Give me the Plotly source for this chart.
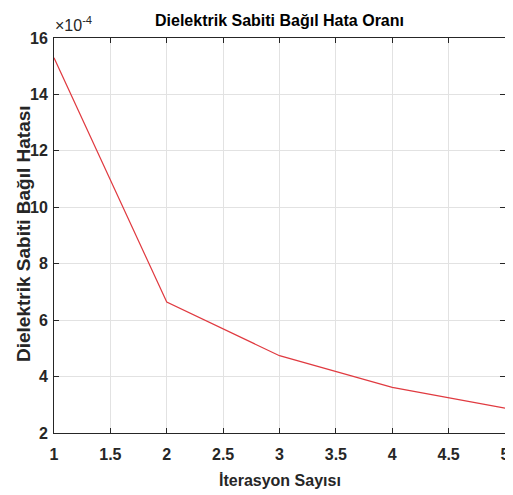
import plotly.graph_objects as go

iterations = [1, 2, 3, 4, 5]
rel_error_e4 = [15.3, 6.64, 4.74, 3.62, 2.88]  # in units of 1e-4

x_ticks = [1, 1.5, 2, 2.5, 3, 3.5, 4, 4.5, 5]
x_tick_text = ["1", "1.5", "2", "2.5", "3", "3.5", "4", "4.5", "5"]
y_ticks = [2, 4, 6, 8, 10, 12, 14, 16]

title_text = "Dielektrik Sabiti Bağıl Hata Oranı"
x_label = "İterasyon Sayısı"
y_label = "Dielektrik Sabiti Bağıl Hatası"
exp_label = "×10<sup>-4</sup>"

font_fam = "Liberation Sans, Arial, sans-serif"
axis_col = "#262626"

# page has an 8px body margin; size the figure so the plot area lands at
# page x 54..505, y 38..433
OFF = 8
W, H = 513 - OFF, 495 - OFF
PL, PR, PT, PB = 54, 505, 38, 433
L, R, T, B = PL - OFF, (W + OFF) - PR, PT - OFF, (H + OFF) - PB
pw, ph = PR - PL, PB - PT


def px_x(px):
    return (px - PL) / pw


def px_y(py):
    return (PB - py) / ph


fig = go.Figure()
fig.add_trace(go.Scatter(
    x=iterations, y=rel_error_e4, mode="lines",
    line=dict(color="#e03a40", width=1.2), showlegend=False,
))

fig.update_layout(
    width=W, height=H,
    margin=dict(l=L, r=R, t=T, b=B, autoexpand=False),
    paper_bgcolor="white", plot_bgcolor="white",
    font=dict(family=font_fam, color=axis_col),
)
common = dict(
    showgrid=True, gridcolor="#e2e2e2", gridwidth=1,
    showline=True, linecolor=axis_col, linewidth=1, mirror="allticks",
    ticks="inside", ticklen=5, tickcolor=axis_col, automargin=False,
    tickfont=dict(size=16, color=axis_col, family=font_fam), zeroline=False,
)
fig.update_xaxes(
    range=[1, 5], tickvals=x_ticks, ticktext=["<b>" + t + "</b>" for t in x_tick_text],
    ticklabeloverflow="allow", ticklabelstandoff=7, **common,
)
fig.update_yaxes(
    range=[2, 16], tickvals=y_ticks, ticktext=["<b>" + str(v) + "</b>" for v in y_ticks],
    ticklabelstandoff=2, **common,
)

# title
fig.add_annotation(
    text="<b>" + title_text + "</b>", xref="paper", yref="paper",
    x=px_x(279), y=px_y(21), xanchor="center", yanchor="middle",
    showarrow=False, font=dict(size=16, color="black", family=font_fam),
)
# x label
fig.add_annotation(
    text="<b>" + x_label + "</b>", xref="paper", yref="paper",
    x=px_x(280), y=px_y(480), xanchor="center", yanchor="middle",
    showarrow=False, font=dict(size=16, color=axis_col, family=font_fam),
)
# y label
fig.add_annotation(
    text="<b>" + y_label + "</b>", xref="paper", yref="paper",
    x=px_x(23), y=px_y(234), xanchor="center", yanchor="middle",
    textangle=-90, showarrow=False, font=dict(size=19, color=axis_col, family=font_fam),
)
# exponent
fig.add_annotation(
    text=exp_label, xref="paper", yref="paper", x=0, y=1, xanchor="left", yanchor="bottom",
    xshift=-1, yshift=2, showarrow=False, font=dict(size=16, color=axis_col, family=font_fam),
)

fig.write_html("out.html")
